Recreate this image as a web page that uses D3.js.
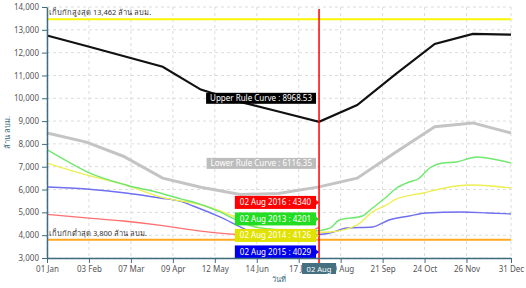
<!DOCTYPE html>
<html>
<head>
<meta charset="utf-8">
<script src="https://cdn.jsdelivr.net/npm/d3@7"></script>
<style>
  body { margin: 0; background: #fff; }
  text { font-family: "Noto Sans", "DejaVu Sans", sans-serif; }
</style>
</head>
<body>
<script>
// storage (million m3) by day of year, plotted on a 2016 calendar
const xTickDays = ["01-01", "02-03", "03-07", "04-09", "05-12", "06-14", "07-17", "08-19", "09-21", "10-24", "11-26", "12-31"];
const yTickValues = [3000, 4000, 5000, 6000, 7000, 8000, 9000, 10000, 11000, 12000, 13000, 14000];

const maxStorage = 13462;
const minStorage = 3800;
const today = "08-02";

const upperRule = [["01-01", 12750], ["02-01", 12290], ["03-01", 11850], ["04-01", 11380], ["05-01", 10380], ["06-01", 9840],
  ["07-01", 9420], ["08-02", 8968.53], ["09-01", 9700], ["10-01", 11050], ["11-01", 12380], ["12-01", 12820], ["12-31", 12790]];

const lowerRule = [["01-01", 8480], ["02-01", 8080], ["03-01", 7460], ["04-01", 6500], ["05-01", 6100], ["06-01", 5780],
  ["07-01", 5830], ["08-02", 6116.35], ["09-01", 6500], ["10-01", 7620], ["11-01", 8750], ["12-01", 8920], ["12-31", 8480]];

const year2016 = [["01-01", 4910], ["02-01", 4760], ["03-01", 4620], ["04-01", 4420], ["05-01", 4180], ["06-01", 4030],
  ["07-01", 3990], ["07-20", 4060], ["08-02", 4340]];

const year2013 = [["01-01", 7750], ["01-15", 7300], ["02-01", 6790], ["03-03", 6200], ["03-30", 5850], ["04-15", 5590],
  ["04-25", 5455], ["05-16", 5020], ["05-29", 4670], ["06-15", 4330], ["07-05", 4230], ["07-25", 4180], ["08-02", 4201],
  ["08-11", 4316], ["08-18", 4666], ["09-05", 4842], ["09-13", 5192], ["09-23", 5630], ["10-02", 6068], ["10-12", 6330],
  ["10-19", 6463], ["10-28", 6945], ["11-07", 7164], ["11-18", 7208], ["12-04", 7427], ["12-12", 7383], ["12-31", 7164]];

const year2014 = [["01-01", 7160], ["02-01", 6640], ["03-03", 6200], ["03-30", 5680], ["04-15", 5500], ["04-25", 5411],
  ["05-14", 5105], ["06-01", 4700], ["06-15", 4350], ["07-10", 4170], ["08-02", 4126], ["08-11", 4140], ["09-01", 4447],
  ["09-13", 5017], ["09-24", 5324], ["10-02", 5587], ["10-23", 5850], ["11-05", 6025], ["11-18", 6156], ["12-01", 6200],
  ["12-31", 6068]];

const year2015 = [["01-01", 6112], ["02-01", 6025], ["03-03", 5850], ["03-30", 5630], ["04-15", 5480], ["04-25", 5280],
  ["05-16", 4798], ["06-01", 4360], ["06-06", 4228], ["06-20", 4080], ["07-10", 4030], ["08-02", 4029], ["08-11", 4100],
  ["08-24", 4316], ["09-13", 4360], ["09-26", 4666], ["10-12", 4842], ["10-25", 4973], ["11-22", 5017], ["12-13", 4973],
  ["12-31", 4930]];

const years = [
  { name: "2016", values: year2016, line: "#ff6f6f", box: "#ff0000" },
  { name: "2013", values: year2013, line: "#6fe86f", box: "#22dd22" },
  { name: "2014", values: year2014, line: "#eeee55", box: "#e2e200" },
  { name: "2015", values: year2015, line: "#6f6ff0", box: "#0000ee" }
];

const width = 526, height = 288;
const plotLeft = 47, plotRight = 511, plotTop = 7, plotBottom = 258;

let parseDay = d3.timeParse("%Y-%m-%d");
let day = s => parseDay("2016-" + s);
let valueAt = (arr, s) => arr.find(p => p[0] == s)[1];

let x = d3.scaleTime()
  .domain([day("01-01"), day("12-31")])
  .range([plotLeft, plotRight]);

let y = d3.scaleLinear()
  .domain([3000, 14000])
  .range([plotBottom, plotTop]);

let svg = d3.select("body").append("svg")
  .attr("width", width)
  .attr("height", height);

// grid
svg.append("g")
  .selectAll("line")
  .data(yTickValues)
  .enter().append("line")
  .attr("x1", plotLeft).attr("x2", plotRight)
  .attr("y1", d => y(d)).attr("y2", d => y(d))
  .attr("stroke", "#dcdcdc")
  .attr("stroke-dasharray", "3,3");

svg.append("g")
  .selectAll("line")
  .data(xTickDays)
  .enter().append("line")
  .attr("x1", d => x(day(d))).attr("x2", d => x(day(d)))
  .attr("y1", plotTop).attr("y2", plotBottom)
  .attr("stroke", "#dcdcdc")
  .attr("stroke-dasharray", "3,3");

// max / min storage
let limits = [
  { v: maxStorage, color: "#f7f700", text: "เก็บกักสูงสุด 13,462 ล้าน ลบม." },
  { v: minStorage, color: "#ffa820", text: "เก็บกักต่ำสุด 3,800 ล้าน ลบม." }
];

svg.append("g")
  .selectAll("line")
  .data(limits)
  .enter().append("line")
  .attr("x1", plotLeft).attr("x2", plotRight)
  .attr("y1", d => y(d.v)).attr("y2", d => y(d.v))
  .attr("stroke", d => d.color)
  .attr("stroke-width", 2);

svg.append("g")
  .selectAll("text")
  .data(limits)
  .enter().append("text")
  .attr("x", plotLeft + 2)
  .attr("y", d => y(d.v) - 4)
  .attr("font-size", "7.5px")
  .attr("fill", "#333")
  .text(d => d.text);

let line = d3.line()
  .x(d => x(day(d[0])))
  .y(d => y(d[1]));

let smoothLine = d3.line()
  .x(d => x(day(d[0])))
  .y(d => y(d[1]))
  .curve(d3.curveMonotoneX);

svg.append("path")
  .attr("d", line(lowerRule))
  .attr("fill", "none")
  .attr("stroke", "#c4c4c4")
  .attr("stroke-width", 3);

svg.append("path")
  .attr("d", line(upperRule))
  .attr("fill", "none")
  .attr("stroke", "#111")
  .attr("stroke-width", 2.2);

svg.append("g")
  .selectAll("path")
  .data(years.slice().reverse())
  .enter().append("path")
  .attr("d", d => smoothLine(d.values))
  .attr("fill", "none")
  .attr("stroke", d => d.line)
  .attr("stroke-width", 1.4);

// current day marker
let xt = x(day(today));

svg.append("line")
  .attr("x1", xt).attr("x2", xt)
  .attr("y1", plotTop + 2).attr("y2", plotBottom + 5)
  .attr("stroke", "#ff0000")
  .attr("stroke-width", 1.5);

// tooltips
function tip(textValue, yTop, h, fill, pad) {
  let g = svg.append("g");
  let r = g.append("rect").attr("fill", fill);
  let t = g.append("text")
    .attr("font-size", "8px")
    .attr("fill", "#fff")
    .attr("y", yTop + h / 2 + 2.8)
    .text(textValue);
  let w = t.node().getComputedTextLength() + pad * 2;
  r.attr("x", xt - 3 - w).attr("y", yTop).attr("width", w).attr("height", h);
  t.attr("x", xt - 3 - w + pad);
  return g;
}

let upTop = y(valueAt(upperRule, today)) - 29;
tip("Upper Rule Curve : " + valueAt(upperRule, today), upTop, 11, "#000", 4);
let lowTop = y(valueAt(lowerRule, today)) - 29;
tip("Lower Rule Curve : " + valueAt(lowerRule, today), lowTop, 11, "#bdbdbd", 4);

let sorted = years.slice().sort((a, b) => valueAt(b.values, today) - valueAt(a.values, today));
let firstTop = y(valueAt(sorted[0].values, today)) - 31.5;
sorted.forEach((s, i) => {
  let g = tip("02 Aug " + s.name + " : " + valueAt(s.values, today), firstTop + i * 16.5, 13, s.box, 5);
  g.append("path")
    .attr("d", "M" + (xt - 3) + "," + (firstTop + i * 16.5 + 4) + "l3,2.5l-3,2.5z")
    .attr("fill", s.box);
});

// axes
let axisColor = "#3d6d7e";

let yAxis = svg.append("g")
  .attr("transform", "translate(" + plotLeft + ",0)")
  .call(d3.axisLeft(y).tickValues(yTickValues).tickFormat(d3.format(",")).tickSize(5).tickSizeOuter(0));

let xAxis = svg.append("g")
  .attr("transform", "translate(0," + plotBottom + ")")
  .call(d3.axisBottom(x).tickValues(xTickDays.map(day)).tickFormat(d3.timeFormat("%d %b")).tickSize(5).tickSizeOuter(0));

[yAxis, xAxis].forEach(a => {
  a.select(".domain").attr("stroke", axisColor).attr("stroke-width", 1.5);
  a.selectAll(".tick line").attr("stroke", axisColor);
  a.selectAll("text").attr("fill", "#555").attr("font-size", "8px").attr("font-family", null);
});

svg.append("text")
  .attr("transform", "translate(10," + (plotTop + plotBottom) / 2 + ") rotate(-90)")
  .attr("text-anchor", "middle")
  .attr("font-size", "7.5px")
  .attr("fill", "#3d6d7e")
  .text("ล้าน ลบม.");

svg.append("text")
  .attr("x", (plotLeft + plotRight) / 2)
  .attr("y", 282)
  .attr("text-anchor", "middle")
  .attr("font-size", "7.5px")
  .attr("fill", "#3d6d7e")
  .text("วันที่");

// current day flag on the axis
let flag = svg.append("g");
flag.append("rect")
  .attr("x", xt - 17).attr("y", plotBottom + 5)
  .attr("width", 34).attr("height", 11)
  .attr("fill", "#44707f");
flag.append("text")
  .attr("x", xt).attr("y", plotBottom + 13.5)
  .attr("text-anchor", "middle")
  .attr("font-size", "7.6px")
  .attr("fill", "#fff")
  .text(d3.timeFormat("%d %b")(day(today)));
</script>
</body>
</html>
